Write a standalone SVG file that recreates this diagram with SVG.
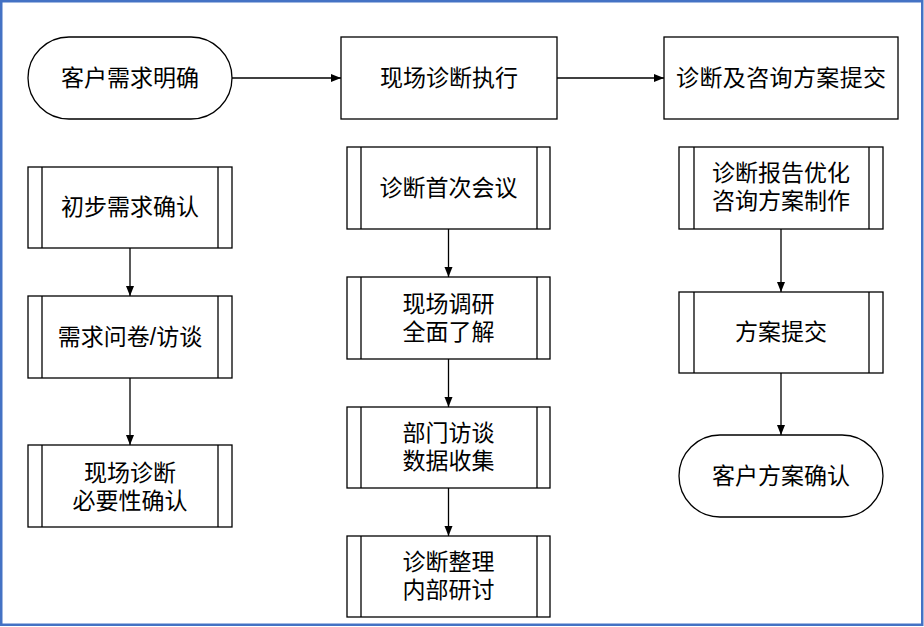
<svg xmlns="http://www.w3.org/2000/svg" width="924" height="627" viewBox="0 0 924 627">
<defs>
<style>
.n{fill:#fff;stroke:#000;stroke-width:1.3}
.l{stroke:#000;stroke-width:1.3;fill:none}
.c{stroke:#000;stroke-width:1.3;fill:none;marker-end:url(#ah)}
text{font-family:"Liberation Sans","Noto Sans CJK SC",sans-serif;font-size:23px;fill:#000;text-anchor:middle}
</style>
<marker id="ah" viewBox="0 0 10 10" refX="10" refY="5" markerWidth="10" markerHeight="10" markerUnits="userSpaceOnUse" orient="auto">
<path d="M0,1 L10,5 L0,9 Z" fill="#000"/>
</marker>
</defs>
<rect x="0" y="0" width="924" height="627" fill="#fff"/>
<rect x="1.25" y="1.25" width="921" height="623.5" fill="none" stroke="#4472C4" stroke-width="2.5"/>

<g id="connectors">
<line class="c" x1="232" y1="78" x2="341" y2="78"/>
<line class="c" x1="557" y1="78" x2="664" y2="78"/>
<line class="c" x1="130" y1="248" x2="130" y2="296"/>
<line class="c" x1="130" y1="378" x2="130" y2="445"/>
<line class="c" x1="448.5" y1="229" x2="448.5" y2="277"/>
<line class="c" x1="448.5" y1="359" x2="448.5" y2="407"/>
<line class="c" x1="448.5" y1="488" x2="448.5" y2="536"/>
<line class="c" x1="781" y1="229" x2="781" y2="292"/>
<line class="c" x1="781" y1="373" x2="781" y2="435"/>
</g>

<g id="n1">
<rect class="n" x="28" y="37" width="204" height="82" rx="41" ry="41"/>
<text x="130" y="86">客户需求明确</text>
</g>
<g id="n2">
<rect class="n" x="341" y="37" width="216" height="82"/>
<text x="449" y="86">现场诊断执行</text>
</g>
<g id="n3">
<rect class="n" x="664" y="37" width="234" height="82"/>
<text x="781" y="86" textLength="210" lengthAdjust="spacing">诊断及咨询方案提交</text>
</g>

<g id="n4">
<rect class="n" x="28" y="167" width="204" height="81"/>
<line class="l" x1="42" y1="167" x2="42" y2="248"/>
<line class="l" x1="218" y1="167" x2="218" y2="248"/>
<text x="130" y="215">初步需求确认</text>
</g>
<g id="n5">
<rect class="n" x="28" y="296" width="204" height="82"/>
<line class="l" x1="42" y1="296" x2="42" y2="378"/>
<line class="l" x1="218" y1="296" x2="218" y2="378"/>
<text x="130" y="345">需求问卷/访谈</text>
</g>
<g id="n6">
<rect class="n" x="28" y="445" width="204" height="82"/>
<line class="l" x1="42" y1="445" x2="42" y2="527"/>
<line class="l" x1="218" y1="445" x2="218" y2="527"/>
<text x="130" y="481">现场诊断</text>
<text x="130" y="509">必要性确认</text>
</g>

<g id="n7">
<rect class="n" x="347" y="147" width="203" height="82"/>
<line class="l" x1="361" y1="147" x2="361" y2="229"/>
<line class="l" x1="537" y1="147" x2="537" y2="229"/>
<text x="448.5" y="196">诊断首次会议</text>
</g>
<g id="n8">
<rect class="n" x="347" y="277" width="203" height="82"/>
<line class="l" x1="361" y1="277" x2="361" y2="359"/>
<line class="l" x1="537" y1="277" x2="537" y2="359"/>
<text x="448.5" y="312">现场调研</text>
<text x="448.5" y="340">全面了解</text>
</g>
<g id="n9">
<rect class="n" x="347" y="407" width="203" height="81"/>
<line class="l" x1="361" y1="407" x2="361" y2="488"/>
<line class="l" x1="537" y1="407" x2="537" y2="488"/>
<text x="448.5" y="441">部门访谈</text>
<text x="448.5" y="469">数据收集</text>
</g>
<g id="n10">
<rect class="n" x="347" y="536" width="203" height="81"/>
<line class="l" x1="361" y1="536" x2="361" y2="617"/>
<line class="l" x1="537" y1="536" x2="537" y2="617"/>
<text x="448.5" y="570">诊断整理</text>
<text x="448.5" y="598">内部研讨</text>
</g>

<g id="n11">
<rect class="n" x="679" y="147" width="204" height="82"/>
<line class="l" x1="694" y1="147" x2="694" y2="229"/>
<line class="l" x1="869" y1="147" x2="869" y2="229"/>
<text x="781" y="181">诊断报告优化</text>
<text x="781" y="209">咨询方案制作</text>
</g>
<g id="n12">
<rect class="n" x="679" y="292" width="204" height="81"/>
<line class="l" x1="694" y1="292" x2="694" y2="373"/>
<line class="l" x1="869" y1="292" x2="869" y2="373"/>
<text x="781" y="340">方案提交</text>
</g>
<g id="n13">
<rect class="n" x="679" y="435" width="204" height="82" rx="41" ry="41"/>
<text x="781" y="484">客户方案确认</text>
</g>
</svg>
